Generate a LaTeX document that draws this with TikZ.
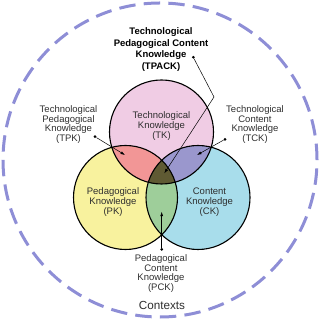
\documentclass[tikz,border=0pt]{standalone}
\usepackage{fontspec}
\setmainfont{Liberation Sans}
\usetikzlibrary{arrows.meta}

\definecolor{tkpink}{HTML}{F0CCE4}
\definecolor{pkyellow}{HTML}{F8F29E}
\definecolor{ckblue}{HTML}{A8DDEB}
\definecolor{tpred}{HTML}{F29696}
\definecolor{tcviolet}{HTML}{9A97CD}
\definecolor{pcgreen}{HTML}{9ECE9A}
\definecolor{tpcolive}{HTML}{5F5A33}
\definecolor{ctxblue}{HTML}{8E8ED6}
\definecolor{labelgray}{HTML}{2E2E2E}

\begin{document}
\begin{tikzpicture}[x=1pt, y=1pt,
  ring/.style={circle, draw, line width=1.1pt, minimum size=104pt, inner sep=0pt},
  lbl/.style={align=center, inner sep=0pt, text=labelgray, font=\fontsize{9.5}{9.8}\selectfont},
  lead/.style={line width=0.5pt, -{Latex[length=4.5pt,width=3pt]}},
  pin/.style={circle, fill=black, inner sep=0pt, minimum size=3pt}]
  \useasboundingbox (0,0) rectangle (320,320);

  % Contexts
  \draw[ctxblue, line width=3pt, dash pattern=on 16.4pt off 8.26pt] (160,160) circle (157);

  % Circle centres
  \coordinate (tkc) at (161.5,188);
  \coordinate (pkc) at (125.5,122.5);
  \coordinate (ckc) at (198,122.5);

  % Fills
  \fill[tkpink] (tkc) circle (52);
  \fill[pkyellow] (pkc) circle (52);
  \fill[ckblue] (ckc) circle (52);
  \begin{scope}
    \clip (tkc) circle (52);
    \fill[tpred] (pkc) circle (52);
    \fill[tcviolet] (ckc) circle (52);
  \end{scope}
  \begin{scope}
    \clip (pkc) circle (52);
    \fill[pcgreen] (ckc) circle (52);
    \clip (ckc) circle (52);
    \fill[tpcolive] (tkc) circle (52);
  \end{scope}

  % Outlines
  \node[ring] (tk) at (tkc) {};
  \node[ring] (pk) at (pkc) {};
  \node[ring] (ck) at (ckc) {};

  % Labels
  \node[lbl] (tklbl) at (161.5,194) {Technological\\Knowledge\\(TK)};
  \node[lbl] (pklbl) at (113,118) {Pedagogical\\Knowledge\\(PK)};
  \node[lbl] (cklbl) at (209.5,118) {Content\\Knowledge\\(CK)};
  \node[lbl] (tpklbl) at (68.5,195.5) {Technological\\Pedagogical\\Knowledge\\(TPK)};
  \node[lbl] (tcklbl) at (255,195.5) {Technological\\Content\\Knowledge\\(TCK)};
  \node[lbl] (pcklbl) at (161,46.5) {Pedagogical\\Content\\Knowledge\\(PCK)};
  \node[lbl, text=black, font=\fontsize{9.5}{11.6}\selectfont\bfseries] (tpacklbl) at (161,270.5)
    {Technological\\Pedagogical Content\\Knowledge\\(TPACK)};
  \node[lbl, font=\fontsize{11.7}{12}\selectfont] (ctx) at (162,15) {Contexts};

  % Leaders
  \node[pin] (tpackpin) at (193.3,262.7) {};
  \node[pin] (tpkpin) at (95,183.3) {};
  \node[pin] (tckpin) at (225,180.7) {};
  \node[pin] (pckpin) at (161.7,70.7) {};
  \coordinate (tpackbend) at (214,223);
  \coordinate (tpackend) at (164.3,146.7);
  \coordinate (tpkend) at (125,165);
  \coordinate (tckend) at (197,165);
  \coordinate (pckend) at (161.7,108.3);

  \draw[lead] (tpackpin) -- (tpackbend) -- (tpackend);
  \draw[lead] (tpkpin) -- (tpkend);
  \draw[lead] (tckpin) -- (tckend);
  \draw[lead] (pckpin) -- (pckend);
\end{tikzpicture}
\end{document}
